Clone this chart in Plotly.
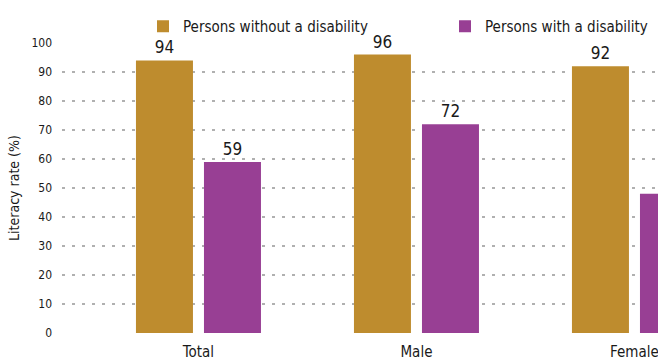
import plotly.graph_objects as go

categories = ["Total", "Male", "Female"]
without_disability = [94, 96, 92]
with_disability = [59, 72, 48]
series_names = ["Persons without a disability", "Persons with a disability"]
y_ticks = list(range(0, 101, 10))

FONT = "DejaVu Sans Condensed, Liberation Sans Narrow, sans-serif"
GOLD = "#BE8C2E"
PURPLE = "#983F94"
TXT = "#1a1a1a"

fig = go.Figure()
fig.add_trace(go.Bar(
    x=categories, y=without_disability, name=series_names[0],
    marker=dict(color=GOLD, line=dict(width=0)),
    text=without_disability, textposition="outside", cliponaxis=False,
    textfont=dict(family=FONT, size=17, color=TXT),
    legend="legend",
))
fig.add_trace(go.Bar(
    x=categories, y=with_disability, name=series_names[1],
    marker=dict(color=PURPLE, line=dict(width=0)),
    text=with_disability, textposition="outside", cliponaxis=False,
    textfont=dict(family=FONT, size=17, color=TXT),
    legend="legend2",
))

leg_common = dict(
    orientation="h", xref="container", yref="container",
    xanchor="left", yanchor="top", y=1 - 10 / 362,
    font=dict(family=FONT, size=15, color=TXT),
    bgcolor="rgba(0,0,0,0)",
)

fig.update_layout(
    width=658, height=362,
    margin=dict(l=62, r=0, t=43, b=29, autoexpand=False),
    paper_bgcolor="white", plot_bgcolor="white",
    barmode="group", bargap=0.376, bargroupgap=0.162,
    font=dict(family=FONT, color=TXT),
    showlegend=True,
    legend=dict(x=143 / 658, **leg_common),
    legend2=dict(x=445 / 658, **leg_common),
    xaxis=dict(
        type="category", range=[-0.626, 2.108],
        showgrid=False, showline=False, ticks="",
        ticklabelstandoff=8,
        tickfont=dict(family=FONT, size=15, color=TXT),
    ),
    yaxis=dict(
        range=[0, 100], tickvals=y_ticks,
        showgrid=True, gridcolor="#b0b0b0", gridwidth=2, griddash="2.5px,7.5px",
        zeroline=False, showline=False, ticks="",
        ticklabelstandoff=9,
        tickfont=dict(family=FONT, size=12, color=TXT),
        title=dict(text="Literacy rate (%)", font=dict(family=FONT, size=14, color=TXT), standoff=8),
    ),
)

fig.write_html("out.html")
